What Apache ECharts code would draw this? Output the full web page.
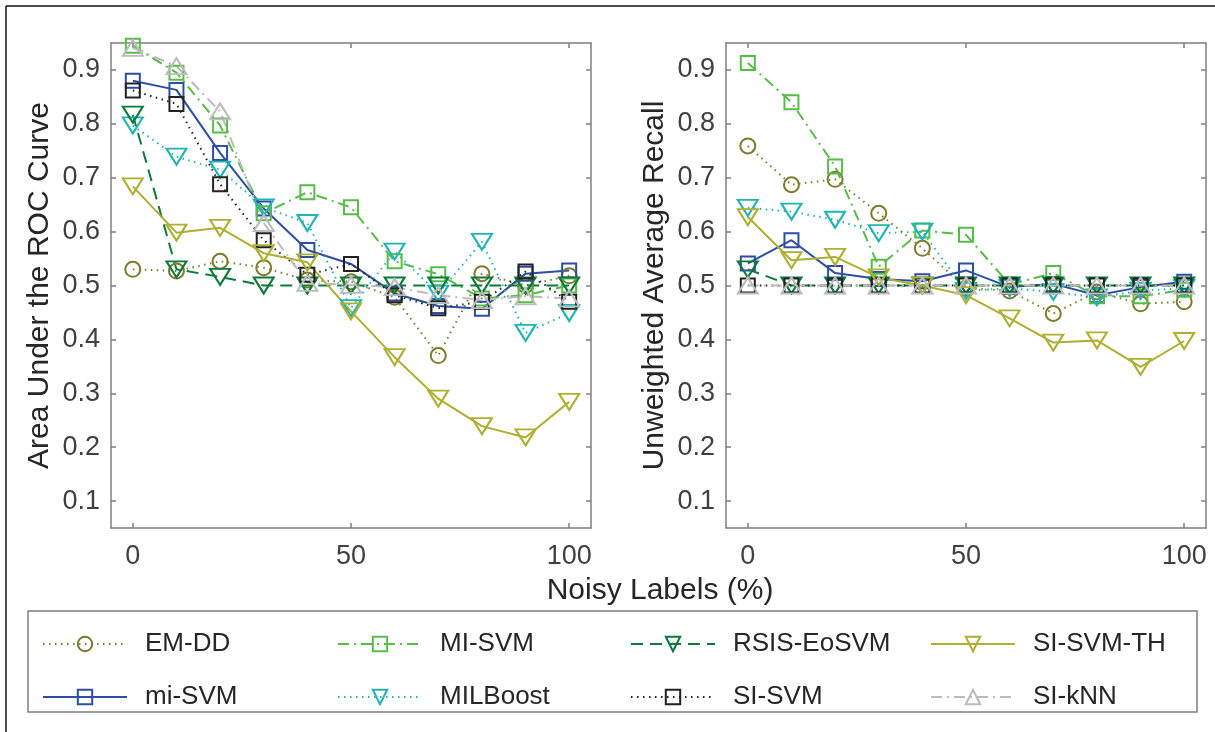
<!DOCTYPE html>
<html>
<head>
<meta charset="utf-8">
<script src="https://cdn.jsdelivr.net/npm/echarts@6/dist/echarts.min.js"></script>
<style>
  html, body { margin: 0; padding: 0; background: #fff; }
  #chart { width: 1215px; height: 732px; }
</style>
</head>
<body>
<div id="chart"></div>
<script>
// noisy label ratio (%)
const noise = [0, 10, 20, 30, 40, 50, 60, 70, 80, 90, 100]
const xTicks = [0, 50, 100]
const yTicks = [0.1, 0.2, 0.3, 0.4, 0.5, 0.6, 0.7, 0.8, 0.9]

// plot order (later ones drawn on top)
const methods = ['EM-DD', 'mi-SVM', 'MI-SVM', 'MILBoost', 'RSIS-EoSVM', 'SI-SVM', 'SI-SVM-TH', 'SI-kNN']

// Area under ROC curve
const aucEMDD     = [0.530, 0.527, 0.545, 0.533, 0.510, 0.507, 0.478, 0.370, 0.522, 0.500, 0.518]
const aucMiSVM    = [0.880, 0.863, 0.746, 0.643, 0.566, 0.540, 0.485, 0.462, 0.457, 0.522, 0.528]
const aucMISVM    = [0.945, 0.895, 0.797, 0.634, 0.673, 0.645, 0.545, 0.521, 0.476, 0.482, 0.500]
const aucMILBoost = [0.797, 0.739, 0.715, 0.645, 0.616, 0.458, 0.563, 0.485, 0.581, 0.412, 0.449]
const aucRSIS     = [0.817, 0.530, 0.516, 0.500, 0.500, 0.500, 0.500, 0.500, 0.500, 0.500, 0.500]
const aucSISVM    = [0.862, 0.837, 0.688, 0.584, 0.520, 0.540, 0.482, 0.458, 0.470, 0.526, 0.470]
const aucSISVMTH  = [0.684, 0.598, 0.607, 0.560, 0.543, 0.452, 0.367, 0.290, 0.239, 0.218, 0.284]
const aucSIkNN    = [0.941, 0.907, 0.823, 0.616, 0.505, 0.501, 0.497, 0.482, 0.473, 0.480, 0.476]

// Unweighted average recall
const uarEMDD     = [0.759, 0.687, 0.697, 0.634, 0.569, 0.495, 0.490, 0.448, 0.488, 0.466, 0.470]
const uarMiSVM    = [0.541, 0.584, 0.523, 0.512, 0.508, 0.528, 0.497, 0.503, 0.482, 0.497, 0.507]
const uarMISVM    = [0.913, 0.840, 0.721, 0.535, 0.602, 0.594, 0.502, 0.523, 0.480, 0.480, 0.492]
const uarMILBoost = [0.644, 0.637, 0.622, 0.597, 0.600, 0.490, 0.495, 0.488, 0.478, 0.490, 0.495]
const uarRSIS     = [0.530, 0.500, 0.500, 0.500, 0.500, 0.500, 0.500, 0.500, 0.500, 0.500, 0.500]
const uarSISVM    = [0.500, 0.500, 0.500, 0.500, 0.500, 0.500, 0.500, 0.500, 0.500, 0.500, 0.500]
const uarSISVMTH  = [0.627, 0.547, 0.553, 0.515, 0.500, 0.482, 0.439, 0.394, 0.398, 0.349, 0.397]
const uarSIkNN    = [0.500, 0.500, 0.500, 0.500, 0.500, 0.500, 0.500, 0.500, 0.500, 0.500, 0.500]

const aucData = [aucEMDD, aucMiSVM, aucMISVM, aucMILBoost, aucRSIS, aucSISVM, aucSISVMTH, aucSIkNN]
const uarData = [uarEMDD, uarMiSVM, uarMISVM, uarMILBoost, uarRSIS, uarSISVM, uarSISVMTH, uarSIkNN]

const DOT = [1.5, 4.5], DASHDOT = [11, 5, 2, 5], DASH = [12, 7]
const TRI = [20, 16]
const styles = {
  'EM-DD':      { color: '#7c7c2c', dash: DOT,     symbol: 'circle',   size: 15, rot: 0 },
  'mi-SVM':     { color: '#2d4ea2', dash: 'solid', symbol: 'rect',     size: 14, rot: 0 },
  'MI-SVM':     { color: '#58bd48', dash: DASHDOT, symbol: 'rect',     size: 14, rot: 0 },
  'MILBoost':   { color: '#20b4b4', dash: DOT,     symbol: 'triangle', size: TRI, rot: 180 },
  'RSIS-EoSVM': { color: '#0b7a3a', dash: DASH,    symbol: 'triangle', size: TRI, rot: 180 },
  'SI-SVM':     { color: '#222222', dash: DOT,     symbol: 'rect',     size: 14, rot: 0 },
  'SI-SVM-TH':  { color: '#afaf32', dash: 'solid', symbol: 'triangle', size: TRI, rot: 180 },
  'SI-kNN':     { color: '#bcbcbc', dash: DASHDOT, symbol: 'triangle', size: TRI, rot: 0 },
}

// legend layout, row-wise like the figure
const legendNames = ['EM-DD', 'MI-SVM', 'RSIS-EoSVM', 'SI-SVM-TH', 'mi-SVM', 'MILBoost', 'SI-SVM', 'SI-kNN']
const legendLeft = [42, 337, 630, 930]
const legendTop = [631, 684]

const FONT = '"Liberation Sans", Arial, Helvetica, sans-serif'
const AXIS_GRAY = '#7f7f7f'

const mkSeries = (name, vals, gi) => {
  const s = styles[name]
  return {
    name, type: 'line',
    xAxisIndex: gi, yAxisIndex: gi,
    data: noise.map((x, i) => [x, vals[i]]),
    symbol: s.symbol, symbolSize: s.size, symbolRotate: s.rot,
    showAllSymbol: true,
    lineStyle: { color: s.color, width: 2, type: s.dash },
    itemStyle: { color: 'rgba(255,255,255,0)', borderColor: s.color, borderWidth: 2 },
    emphasis: { disabled: true },
    animation: false,
  }
}

const xAx = (gi, pos, labels) => ({
  type: 'value', gridIndex: gi, position: pos, min: -5, max: 105,
  axisLine: { show: true, onZero: false, lineStyle: { color: AXIS_GRAY, width: 1.5 } },
  axisTick: { show: true, inside: true, length: 5, customValues: xTicks, lineStyle: { color: AXIS_GRAY, width: 1.5 } },
  axisLabel: { show: labels, customValues: xTicks, color: '#404040', fontSize: 27, fontFamily: FONT, margin: 15 },
  splitLine: { show: false },
})

const yAx = (gi, pos, labels, name) => ({
  type: 'value', gridIndex: gi, position: pos, min: 0.05, max: 0.95,
  name: name, nameLocation: 'middle', nameGap: 56,
  nameTextStyle: { color: '#262626', fontSize: 30, fontFamily: FONT },
  axisLine: { show: true, onZero: false, lineStyle: { color: AXIS_GRAY, width: 1.5 } },
  axisTick: { show: true, inside: true, length: 5, customValues: yTicks, lineStyle: { color: AXIS_GRAY, width: 1.5 } },
  axisLabel: { show: labels, customValues: yTicks, color: '#404040', fontSize: 27, fontFamily: FONT, margin: 11,
    formatter: v => v.toFixed(1) },
  splitLine: { show: false },
})

const legends = legendNames.map((n, i) => ({
  data: [n],
  left: legendLeft[i % 4], top: legendTop[Math.floor(i / 4)],
  padding: 0, itemWidth: 84, itemHeight: 18,
  textStyle: { color: '#262626', fontSize: 26, fontFamily: FONT, padding: [0, 0, 0, 13] },
  selectedMode: false,
}))

const chart = echarts.init(document.getElementById('chart'), null, { renderer: 'canvas' })
chart.setOption({
  backgroundColor: '#fff',
  animation: false,
  grid: [
    { left: 111, top: 43, width: 480, height: 485 },
    { left: 726, top: 43, width: 480, height: 485 },
  ],
  xAxis: [
    xAx(0, 'bottom', true), xAx(1, 'bottom', true),
    xAx(0, 'top', false), xAx(1, 'top', false),
  ],
  yAxis: [
    yAx(0, 'left', true, 'Area Under the ROC Curve'),
    yAx(1, 'left', true, 'Unweighted Average Recall'),
    yAx(0, 'right', false, ''), yAx(1, 'right', false, ''),
  ],
  legend: legends,
  series: [
    ...methods.map((m, i) => mkSeries(m, aucData[i], 0)),
    ...methods.map((m, i) => mkSeries(m, uarData[i], 1)),
  ],
  graphic: [
    { type: 'line', shape: { x1: 6, y1: 6, x2: 1215, y2: 6 }, style: { stroke: '#111', lineWidth: 1.5 } },
    { type: 'line', shape: { x1: 6, y1: 6, x2: 6, y2: 732 }, style: { stroke: '#111', lineWidth: 1.5 } },
    { type: 'rect', shape: { x: 28, y: 611, width: 1169, height: 101 }, style: { fill: 'none', stroke: AXIS_GRAY, lineWidth: 1.5 }, z: -1 },
    { type: 'text', x: 660, y: 591, style: { text: 'Noisy Labels (%)', fill: '#262626', font: '30px ' + FONT, textAlign: 'center', textVerticalAlign: 'middle' } },
  ],
})
</script>
</body>
</html>
